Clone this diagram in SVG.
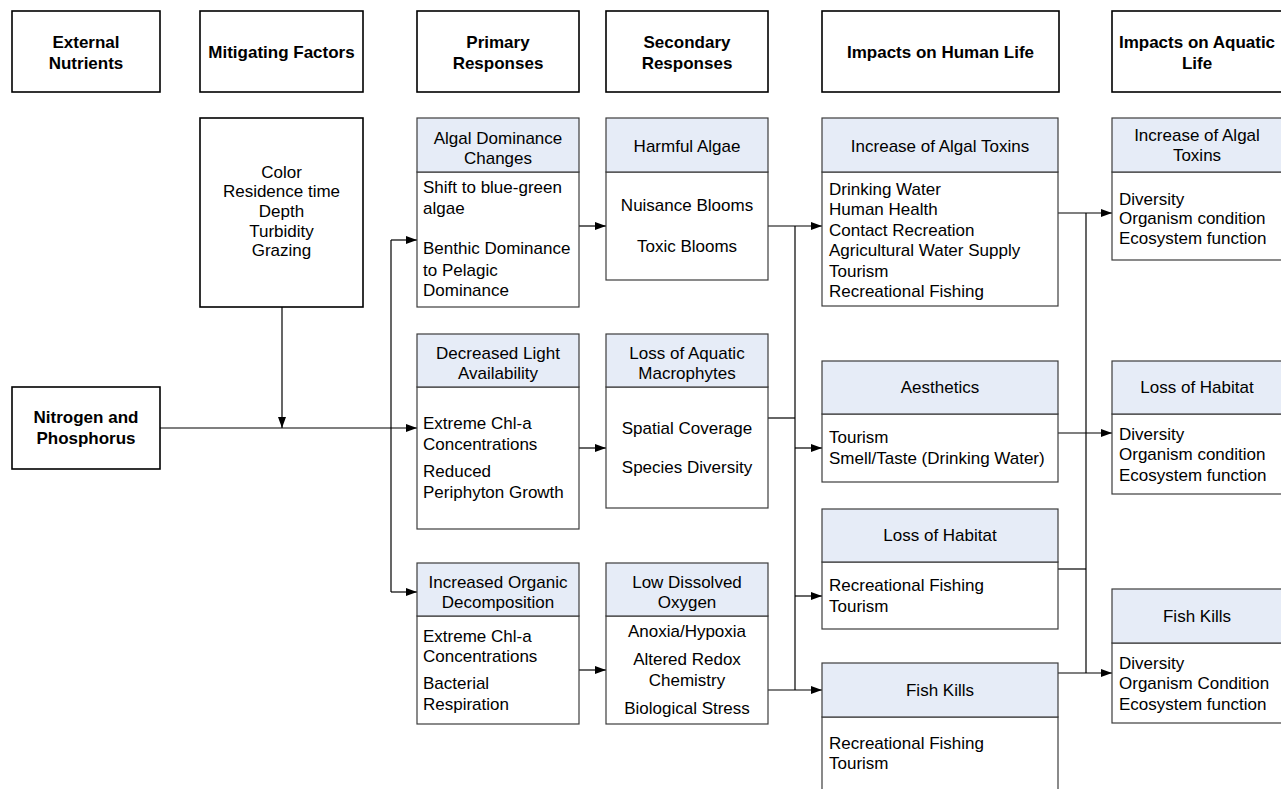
<svg xmlns="http://www.w3.org/2000/svg" width="1281" height="789" viewBox="0 0 1281 789">
<style>
text{font-family:"Liberation Sans",Arial,sans-serif;font-size:17px;fill:#000}
.b{font-weight:bold}
.c{text-anchor:middle}
.hb{fill:#fff;stroke:#000;stroke-width:1.6}
.hd{fill:#E6ECF7;stroke:#3c3c3c;stroke-width:1.2}
.bd{fill:#fff;stroke:#3c3c3c;stroke-width:1.2}
.cn{fill:none;stroke:#000;stroke-width:1.2}
.ar{fill:none;stroke:#000;stroke-width:1.2;marker-end:url(#ah)}
</style>
<defs>
<marker id="ah" markerUnits="userSpaceOnUse" markerWidth="11" markerHeight="8" refX="11" refY="4" orient="auto">
<path d="M0,0 L11,4 L0,8 Z" fill="#000"/>
</marker>
</defs>
<rect width="1281" height="789" fill="#fff"/>

<g id="col-headers">
<g id="h-external"><rect class="hb" x="12" y="11" width="148" height="81"/><text class="b c" x="86" y="48">External</text><text class="b c" x="86" y="69">Nutrients</text></g>
<g id="h-mitigating"><rect class="hb" x="200" y="11" width="163" height="81"/><text class="b c" x="281.5" y="58">Mitigating Factors</text></g>
<g id="h-primary"><rect class="hb" x="417" y="11" width="162" height="81"/><text class="b c" x="498" y="48">Primary</text><text class="b c" x="498" y="69">Responses</text></g>
<g id="h-secondary"><rect class="hb" x="606" y="11" width="162" height="81"/><text class="b c" x="687" y="48">Secondary</text><text class="b c" x="687" y="69">Responses</text></g>
<g id="h-human"><rect class="hb" x="822" y="11" width="237" height="81"/><text class="b c" x="940.5" y="58">Impacts on Human Life</text></g>
<g id="h-aquatic"><rect class="hb" x="1112" y="11" width="170" height="81"/><text class="b c" x="1197" y="48">Impacts on Aquatic</text><text class="b c" x="1197" y="69">Life</text></g>
</g>

<g id="connectors">
<line class="ar" x1="282" y1="307" x2="282" y2="428"/>
<line class="ar" x1="160" y1="428" x2="417" y2="428"/>
<line class="cn" x1="391" y1="240" x2="391" y2="592"/>
<line class="ar" x1="391" y1="240" x2="417" y2="240"/>
<line class="ar" x1="391" y1="592" x2="417" y2="592"/>
<line class="ar" x1="579" y1="226" x2="606" y2="226"/>
<line class="ar" x1="579" y1="448" x2="606" y2="448"/>
<line class="ar" x1="579" y1="670" x2="606" y2="670"/>
<line class="ar" x1="768" y1="226" x2="822" y2="226"/>
<line class="cn" x1="768" y1="418" x2="795" y2="418"/>
<line class="cn" x1="795" y1="226" x2="795" y2="690"/>
<line class="ar" x1="795" y1="448" x2="822" y2="448"/>
<line class="ar" x1="795" y1="596" x2="822" y2="596"/>
<line class="ar" x1="768" y1="690" x2="822" y2="690"/>
<line class="ar" x1="1058" y1="213" x2="1112" y2="213"/>
<line class="ar" x1="1058" y1="433" x2="1112" y2="433"/>
<line class="cn" x1="1058" y1="569" x2="1086" y2="569"/>
<line class="ar" x1="1058" y1="673" x2="1112" y2="673"/>
<line class="cn" x1="1086" y1="213" x2="1086" y2="673"/>
</g>

<g id="n-mitigating"><rect class="hb" x="200" y="118" width="163" height="189"/>
<text class="c" x="281.5" y="178">Color</text><text class="c" x="281.5" y="197">Residence time</text><text class="c" x="281.5" y="217">Depth</text><text class="c" x="281.5" y="237">Turbidity</text><text class="c" x="281.5" y="256">Grazing</text></g>

<g id="n-nitrogen"><rect class="hb" x="12" y="387" width="148" height="82"/>
<text class="b c" x="86" y="423">Nitrogen and</text><text class="b c" x="86" y="444">Phosphorus</text></g>

<g id="n-algal-dominance"><rect class="bd" x="417" y="172" width="162" height="135"/><rect class="hd" x="417" y="118" width="162" height="54"/>
<text class="c" x="498" y="144">Algal Dominance</text><text class="c" x="498" y="164">Changes</text>
<text x="423" y="193">Shift to blue-green</text><text x="423" y="214">algae</text><text x="423" y="254">Benthic Dominance</text><text x="423" y="276">to Pelagic</text><text x="423" y="296">Dominance</text></g>

<g id="n-harmful-algae"><rect class="bd" x="606" y="172" width="162" height="108"/><rect class="hd" x="606" y="118" width="162" height="54"/>
<text class="c" x="687" y="152">Harmful Algae</text>
<text class="c" x="687" y="211">Nuisance Blooms</text><text class="c" x="687" y="252">Toxic Blooms</text></g>

<g id="n-decreased-light"><rect class="bd" x="417" y="387" width="162" height="142"/><rect class="hd" x="417" y="334" width="162" height="53"/>
<text class="c" x="498" y="359">Decreased Light</text><text class="c" x="498" y="379">Availability</text>
<text x="423" y="429">Extreme Chl-a</text><text x="423" y="450">Concentrations</text><text x="423" y="477">Reduced</text><text x="423" y="498">Periphyton Growth</text></g>

<g id="n-loss-macrophytes"><rect class="bd" x="606" y="387" width="162" height="121"/><rect class="hd" x="606" y="334" width="162" height="53"/>
<text class="c" x="687" y="359">Loss of Aquatic</text><text class="c" x="687" y="379">Macrophytes</text>
<text class="c" x="687" y="434">Spatial Coverage</text><text class="c" x="687" y="473">Species Diversity</text></g>

<g id="n-organic-decomposition"><rect class="bd" x="417" y="616" width="162" height="108"/><rect class="hd" x="417" y="563" width="162" height="53"/>
<text class="c" x="498" y="588">Increased Organic</text><text class="c" x="498" y="608">Decomposition</text>
<text x="423" y="642">Extreme Chl-a</text><text x="423" y="662">Concentrations</text><text x="423" y="689">Bacterial</text><text x="423" y="710">Respiration</text></g>

<g id="n-low-oxygen"><rect class="bd" x="606" y="616" width="162" height="108"/><rect class="hd" x="606" y="563" width="162" height="53"/>
<text class="c" x="687" y="588">Low Dissolved</text><text class="c" x="687" y="608">Oxygen</text>
<text class="c" x="687" y="637">Anoxia/Hypoxia</text><text class="c" x="687" y="665">Altered Redox</text><text class="c" x="687" y="686">Chemistry</text><text class="c" x="687" y="714">Biological Stress</text></g>

<g id="n-human-toxins"><rect class="bd" x="822" y="172" width="236" height="134"/><rect class="hd" x="822" y="118" width="236" height="54"/>
<text class="c" x="940" y="152">Increase of Algal Toxins</text>
<text x="829" y="195">Drinking Water</text><text x="829" y="215">Human Health</text><text x="829" y="236">Contact Recreation</text><text x="829" y="256">Agricultural Water Supply</text><text x="829" y="277">Tourism</text><text x="829" y="297">Recreational Fishing</text></g>

<g id="n-human-aesthetics"><rect class="bd" x="822" y="414" width="236" height="68"/><rect class="hd" x="822" y="361" width="236" height="53"/>
<text class="c" x="940" y="393">Aesthetics</text>
<text x="829" y="443">Tourism</text><text x="829" y="464">Smell/Taste (Drinking Water)</text></g>

<g id="n-human-habitat"><rect class="bd" x="822" y="562" width="236" height="67"/><rect class="hd" x="822" y="509" width="236" height="53"/>
<text class="c" x="940" y="541">Loss of Habitat</text>
<text x="829" y="591">Recreational Fishing</text><text x="829" y="612">Tourism</text></g>

<g id="n-human-fish"><rect class="bd" x="822" y="717" width="236" height="80"/><rect class="hd" x="822" y="663" width="236" height="54"/>
<text class="c" x="940" y="696">Fish Kills</text>
<text x="829" y="749">Recreational Fishing</text><text x="829" y="769">Tourism</text></g>

<g id="n-aquatic-toxins"><rect class="bd" x="1112" y="172" width="172" height="88"/><rect class="hd" x="1112" y="118" width="172" height="54"/>
<text class="c" x="1197" y="141">Increase of Algal</text><text class="c" x="1197" y="161">Toxins</text>
<text x="1119" y="205">Diversity</text><text x="1119" y="224">Organism condition</text><text x="1119" y="244">Ecosystem function</text></g>

<g id="n-aquatic-habitat"><rect class="bd" x="1112" y="414" width="172" height="80"/><rect class="hd" x="1112" y="361" width="172" height="53"/>
<text class="c" x="1197" y="393">Loss of Habitat</text>
<text x="1119" y="440">Diversity</text><text x="1119" y="460">Organism condition</text><text x="1119" y="481">Ecosystem function</text></g>

<g id="n-aquatic-fish"><rect class="bd" x="1112" y="643" width="172" height="80"/><rect class="hd" x="1112" y="589" width="172" height="54"/>
<text class="c" x="1197" y="622">Fish Kills</text>
<text x="1119" y="669">Diversity</text><text x="1119" y="689">Organism Condition</text><text x="1119" y="710">Ecosystem function</text></g>
</svg>
